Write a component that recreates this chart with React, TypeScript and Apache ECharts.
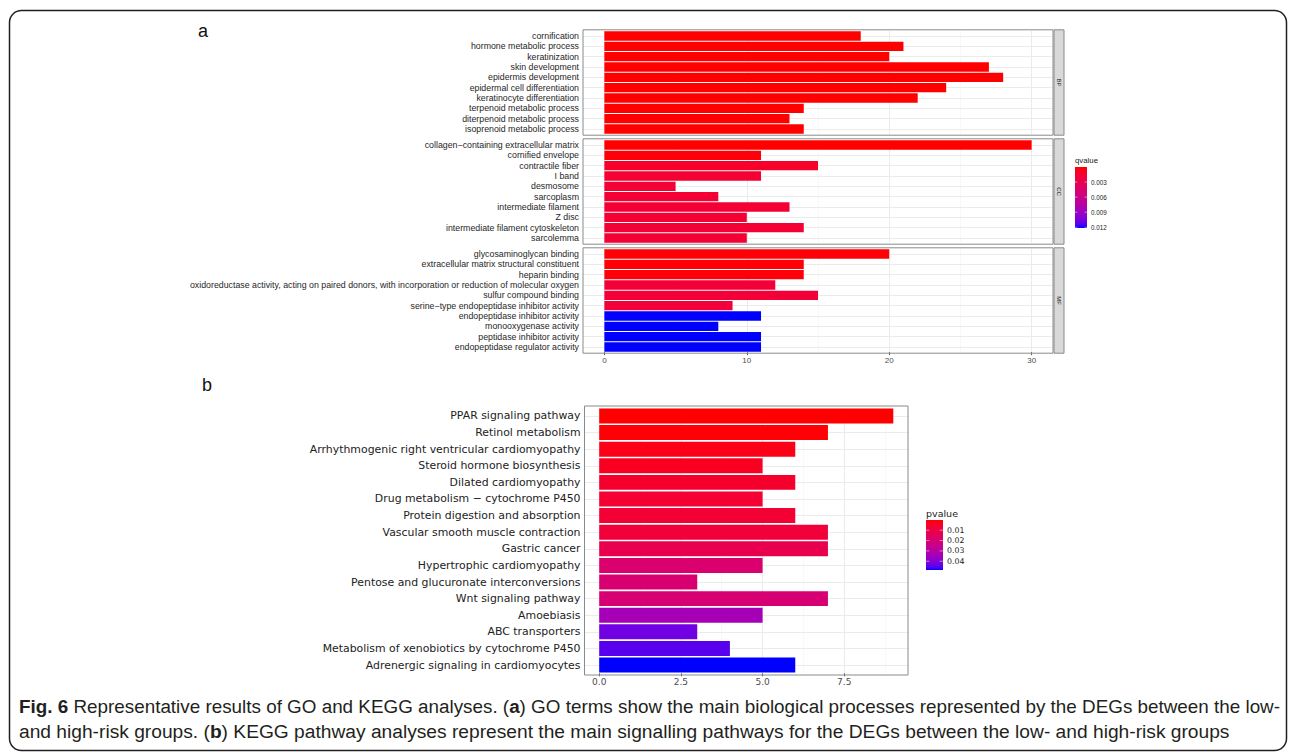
import React, { useEffect, useRef } from "react";
import * as echarts from "echarts";

// ---------------- DATA ----------------
const bpTerms = [
  "cornification", "hormone metabolic process", "keratinization", "skin development",
  "epidermis development", "epidermal cell differentiation", "keratinocyte differentiation",
  "terpenoid metabolic process", "diterpenoid metabolic process", "isoprenoid metabolic process",
];
const bpCounts = [18, 21, 20, 27, 28, 24, 22, 14, 13, 14];
const bpQ = [0.00001, 0.00001, 0.00001, 0.00001, 0.00001, 0.00001, 0.00001, 0.00002, 0.00002, 0.00002];

const ccTerms = [
  "collagen\u2212containing extracellular matrix", "cornified envelope", "contractile fiber", "I band",
  "desmosome", "sarcoplasm", "intermediate filament", "Z disc",
  "intermediate filament cytoskeleton", "sarcolemma",
];
const ccCounts = [30, 11, 15, 11, 5, 8, 13, 10, 14, 10];
const ccQ = [0.00003, 0.0002, 0.0012, 0.0016, 0.0017, 0.0017, 0.0017, 0.0017, 0.0017, 0.0017];

const mfTerms = [
  "glycosaminoglycan binding", "extracellular matrix structural constituent", "heparin binding",
  "oxidoreductase activity, acting on paired donors, with incorporation or reduction of molecular oxygen",
  "sulfur compound binding", "serine\u2212type endopeptidase inhibitor activity",
  "endopeptidase inhibitor activity", "monooxygenase activity", "peptidase inhibitor activity",
  "endopeptidase regulator activity",
];
const mfCounts = [20, 14, 14, 12, 15, 9, 11, 8, 11, 11];
const mfQ = [0.0001, 0.0001, 0.0002, 0.0018, 0.0018, 0.0018, 0.01214, 0.01214, 0.01214, 0.01214];

const facetNames = ["BP", "CC", "MF"];
const goXTicks = [0, 10, 20, 30];
const goXMinor = [5, 15, 25];
const qTicks = [0.003, 0.006, 0.009, 0.012];

const keggTerms = [
  "PPAR signaling pathway", "Retinol metabolism", "Arrhythmogenic right ventricular cardiomyopathy",
  "Steroid hormone biosynthesis", "Dilated cardiomyopathy", "Drug metabolism \u2212 cytochrome P450",
  "Protein digestion and absorption", "Vascular smooth muscle contraction", "Gastric cancer",
  "Hypertrophic cardiomyopathy", "Pentose and glucuronate interconversions", "Wnt signaling pathway",
  "Amoebiasis", "ABC transporters", "Metabolism of xenobiotics by cytochrome P450",
  "Adrenergic signaling in cardiomyocytes",
];
const keggCounts = [9, 7, 6, 5, 6, 5, 6, 7, 7, 5, 3, 7, 5, 3, 4, 6];
const keggP = [0.0001, 0.0006, 0.0021, 0.0035, 0.0054, 0.0064, 0.0069, 0.0078, 0.0121, 0.0184, 0.019, 0.0195, 0.034, 0.0427, 0.0451, 0.0485];
const keggXTicks = [0, 2.5, 5, 7.5];
const keggXMinor = [1.25, 3.75, 6.25, 8.75];
const pTicks = [0.01, 0.02, 0.03, 0.04];

// ---------------- COLOUR (CIELAB ramp red -> blue, as ggplot) ----------------
const LOW = [255, 0, 0];
const HIGH = [0, 0, 255];
function toLin(c: number) { c /= 255; return c <= 0.04045 ? c / 12.92 : Math.pow((c + 0.055) / 1.055, 2.4); }
function fromLin(v: number) {
  v = Math.max(0, Math.min(1, v));
  const s = v <= 0.0031308 ? 12.92 * v : 1.055 * Math.pow(v, 1 / 2.4) - 0.055;
  return Math.round(Math.max(0, Math.min(1, s)) * 255);
}
const WX = 0.95047, WY = 1, WZ = 1.08883;
function rgbToLab(rgb: number[]) {
  const [r, g, b] = rgb.map(toLin);
  const x = (0.4124 * r + 0.3576 * g + 0.1805 * b) / WX;
  const y = (0.2126 * r + 0.7152 * g + 0.0722 * b) / WY;
  const z = (0.0193 * r + 0.1192 * g + 0.9505 * b) / WZ;
  const f = (t: number) => (t > 0.008856 ? Math.cbrt(t) : 7.787 * t + 16 / 116);
  const fx = f(x), fy = f(y), fz = f(z);
  return [116 * fy - 16, 500 * (fx - fy), 200 * (fy - fz)];
}
function labToHex(lab: number[]) {
  const [L, a, bb] = lab;
  const fy = (L + 16) / 116, fx = fy + a / 500, fz = fy - bb / 200;
  const inv = (t: number) => (t * t * t > 0.008856 ? t * t * t : (t - 16 / 116) / 7.787);
  const x = inv(fx) * WX, y = inv(fy) * WY, z = inv(fz) * WZ;
  const r = 3.2406 * x - 1.5372 * y - 0.4986 * z;
  const g = -0.9689 * x + 1.8758 * y + 0.0415 * z;
  const b = 0.0557 * x - 0.204 * y + 1.057 * z;
  return "#" + [r, g, b].map((v) => fromLin(v).toString(16).padStart(2, "0")).join("");
}
const labLow = rgbToLab(LOW), labHigh = rgbToLab(HIGH);
function ramp(t: number) {
  t = Math.max(0, Math.min(1, t));
  return labToHex(labLow.map((v, i) => v + (labHigh[i] - v) * t));
}
function gradientStops() {
  const s: { offset: number; color: string }[] = [];
  for (let i = 0; i <= 20; i++) s.push({ offset: i / 20, color: ramp(i / 20) });
  return s;
}

// ---------------- LAYOUT ----------------
const FA = "'Liberation Sans', Arial, sans-serif";
const FB = "'DejaVu Sans', Verdana, sans-serif";
const FC = "'Liberation Sans', Arial, sans-serif";

const A_LEFT = 583, A_RIGHT = 1053;
const A_TOPS = [29.8, 138.8, 247.8];
const A_H = 105.4;
const B_LEFT = 584.5, B_RIGHT = 908, B_TOP = 406, B_BOTTOM = 675;

export default function App() {
  const ref = useRef<HTMLDivElement>(null);
  useEffect(() => {
    if (!ref.current) return;
    const chart = echarts.init(ref.current, undefined, { renderer: "svg" });

    const goTerms = [bpTerms, ccTerms, mfTerms];
    const goCounts = [bpCounts, ccCounts, mfCounts];
    const goQ = [bpQ, ccQ, mfQ];
    const allQ = [...bpQ, ...ccQ, ...mfQ];
    const qMin = Math.min(...allQ), qMax = Math.max(...allQ);
    const pMin = Math.min(...keggP), pMax = Math.max(...keggP);
    const goMax = Math.max(...bpCounts, ...ccCounts, ...mfCounts);
    const keggMax = Math.max(...keggCounts);
    const goExp = goMax * 0.05, keggExp = keggMax * 0.05;

    const grids: any[] = [];
    const xAxes: any[] = [];
    const yAxes: any[] = [];
    const series: any[] = [];
    const graphics: any[] = [];

    const gridLineColor = "#ebebeb";
    const minorColor = "#f3f3f3";

    const addPanel = (
      gi: number, left: number, right: number, top: number, h: number,
      terms: string[], counts: number[], colors: string[], xmin: number, xmax: number,
      ticks: number[], minor: number[], showX: boolean, yFont: any, xFont: any, decimals: boolean
    ) => {
      const n = terms.length;
      const u = h / (n + 0.2);
      grids.push({ left, width: right - left, top: top + 0.1 * u, height: n * u, show: false, outerBoundsMode: "none", containLabel: false });
      xAxes.push({
        type: "value", gridIndex: gi, min: xmin, max: xmax, position: "bottom",
        axisLine: { show: false },
        axisTick: { show: showX, customValues: ticks, length: 3, lineStyle: { color: "#333", width: 0.8 } },
        axisLabel: { show: showX, customValues: ticks, margin: 4, ...xFont, formatter: (v: number) => (decimals ? v.toFixed(1) : String(v)) },
        splitLine: { show: true, lineStyle: { color: gridLineColor, width: 1 } },
      });
      xAxes.push({
        type: "value", gridIndex: gi, min: xmin, max: xmax, position: "top",
        axisLine: { show: false },
        axisTick: { show: false, customValues: minor },
        axisLabel: { show: false },
        splitLine: { show: true, lineStyle: { color: minorColor, width: 0.6 } },
      });
      yAxes.push({
        type: "category", gridIndex: gi, data: terms, inverse: true,
        axisLine: { show: false },
        axisTick: { show: true, alignWithLabel: true, interval: 0, length: 3, lineStyle: { color: "#333", width: 0.8 } },
        axisLabel: { margin: 4, interval: 0, ...yFont },
        splitLine: { show: false },
      });
      series.push({
        type: "bar", xAxisIndex: gi * 2, yAxisIndex: gi, barCategoryGap: "10%",
        silent: true, z: 2,
        data: counts.map((v, j) => ({ value: v, itemStyle: { color: colors[j] } })),
        markLine: {
          silent: true, symbol: "none", z: 1, animation: false,
          label: { show: false },
          lineStyle: { color: gridLineColor, width: 1, type: "solid" },
          emphasis: { disabled: true },
          data: terms.map((t) => ({ yAxis: t })),
        },
      });
      graphics.push({
        type: "rect", z: 50, silent: true,
        shape: { x: left, y: top, width: right - left, height: h },
        style: { fill: "none", stroke: "#8a8a8a", lineWidth: 1 },
      });
    };

    const yFontA = { fontFamily: FA, fontSize: 8.8, color: "#262626" };
    const xFontA = { fontFamily: FA, fontSize: 8, color: "#4d4d4d" };
    for (let i = 0; i < 3; i++) {
      const colors = goQ[i].map((q) => ramp((q - qMin) / (qMax - qMin)));
      addPanel(i, A_LEFT, A_RIGHT, A_TOPS[i], A_H, goTerms[i], goCounts[i], colors,
        -goExp, goMax + goExp, goXTicks, goXMinor, i === 2, yFontA, xFontA, false);
      // strip
      graphics.push({
        type: "rect", z: 50, silent: true,
        shape: { x: A_RIGHT + 1, y: A_TOPS[i], width: 10, height: A_H },
        style: { fill: "#d9d9d9", stroke: "#8a8a8a", lineWidth: 1 },
      });
      graphics.push({
        type: "text", z: 51, silent: true,
        x: A_RIGHT + 6, y: A_TOPS[i] + A_H / 2, rotation: -Math.PI / 2,
        style: { text: facetNames[i], font: `6px ${FA}`, fill: "#1a1a1a", align: "center", verticalAlign: "middle", textAlign: "center", textVerticalAlign: "middle" },
      });
    }

    const yFontB = { fontFamily: FB, fontSize: 10.9, color: "#222" };
    const xFontB = { fontFamily: FB, fontSize: 9, color: "#4d4d4d" };
    const kColors = keggP.map((p) => ramp((p - pMin) / (pMax - pMin)));
    addPanel(3, B_LEFT, B_RIGHT, B_TOP, B_BOTTOM - B_TOP, keggTerms, keggCounts, kColors,
      -keggExp, keggMax + keggExp, keggXTicks, keggXMinor, true, yFontB, xFontB, true);

    // colour bar legends
    const addColorbar = (title: string, x: number, y: number, w: number, h: number, vmin: number, vmax: number,
      ticks: number[], fmt: (v: number) => string, titleFont: string, labFont: string) => {
      graphics.push({
        type: "text", z: 51, silent: true, x: x, y: y - 7,
        style: { text: title, font: titleFont, fill: "#1a1a1a", align: "left", verticalAlign: "middle", textAlign: "left", textVerticalAlign: "middle" },
      });
      graphics.push({
        type: "rect", z: 50, silent: true, shape: { x, y, width: w, height: h },
        style: { fill: { type: "linear", x: 0, y: 0, x2: 0, y2: 1, colorStops: gradientStops() } },
      });
      ticks.forEach((t) => {
        const ty = y + ((t - vmin) / (vmax - vmin)) * h;
        graphics.push({ type: "line", z: 52, silent: true, shape: { x1: x, y1: ty, x2: x + w / 5, y2: ty }, style: { stroke: "#ffffff", lineWidth: 0.6, opacity: 0.8 } });
        graphics.push({ type: "line", z: 52, silent: true, shape: { x1: x + w - w / 5, y1: ty, x2: x + w, y2: ty }, style: { stroke: "#ffffff", lineWidth: 0.6, opacity: 0.8 } });
        graphics.push({
          type: "text", z: 51, silent: true, x: x + w + 4, y: ty,
          style: { text: fmt(t), font: labFont, fill: "#1a1a1a", align: "left", verticalAlign: "middle", textAlign: "left", textVerticalAlign: "middle" },
        });
      });
    };
    addColorbar("qvalue", 1075, 167, 12, 61, qMin, qMax, qTicks, (v) => v.toFixed(3), `7.8px ${FA}`, `6.3px ${FA}`);
    addColorbar("pvalue", 926, 520, 17, 50, pMin, pMax, pTicks, (v) => v.toFixed(2), `9.5px ${FB}`, `7.8px ${FB}`);

    // panel letters
    graphics.push({ type: "text", z: 51, silent: true, x: 203, y: 31, style: { text: "a", font: `18px 'Liberation Sans', Arial, sans-serif`, fill: "#111", align: "center", verticalAlign: "middle", textAlign: "center", textVerticalAlign: "middle" } });
    graphics.push({ type: "text", z: 51, silent: true, x: 207, y: 385, style: { text: "b", font: `18px 'Liberation Sans', Arial, sans-serif`, fill: "#111", align: "center", verticalAlign: "middle", textAlign: "center", textVerticalAlign: "middle" } });

    // caption
    const cap1 = 18.85, cap2 = 19.2;
    graphics.push({
      type: "text", z: 51, silent: true, x: 19, y: 706,
      style: {
        text: "{b|Fig. 6} Representative results of GO and KEGG analyses. ({b|a}) GO terms show the main biological processes represented by the DEGs between the low-",
        font: `${cap1}px ${FC}`, fill: "#231f20", align: "left", verticalAlign: "middle", textAlign: "left", textVerticalAlign: "middle",
        rich: { b: { font: `bold ${cap1}px ${FC}`, fill: "#231f20" } },
      },
    });
    graphics.push({
      type: "text", z: 51, silent: true, x: 19, y: 731,
      style: {
        text: "and high-risk groups. ({b|b}) KEGG pathway analyses represent the main signalling pathways for the DEGs between the low- and high-risk groups",
        font: `${cap2}px ${FC}`, fill: "#231f20", align: "left", verticalAlign: "middle", textAlign: "left", textVerticalAlign: "middle",
        rich: { b: { font: `bold ${cap2}px ${FC}`, fill: "#231f20" } },
      },
    });

    // outer frame
    graphics.push({
      type: "rect", z: 40, silent: true,
      shape: { x: 9.5, y: 10.5, width: 1277, height: 740, r: 12 },
      style: { fill: "none", stroke: "#231f20", lineWidth: 1.5 },
    });

    chart.setOption({
      animation: false,
      backgroundColor: "#ffffff",
      grid: grids,
      xAxis: xAxes,
      yAxis: yAxes,
      series,
      graphic: { elements: graphics },
    });
    return () => chart.dispose();
  }, []);
  return <div ref={ref} style={{ position: "absolute", left: 0, top: 0, width: 1295, height: 754 }} />;
}
